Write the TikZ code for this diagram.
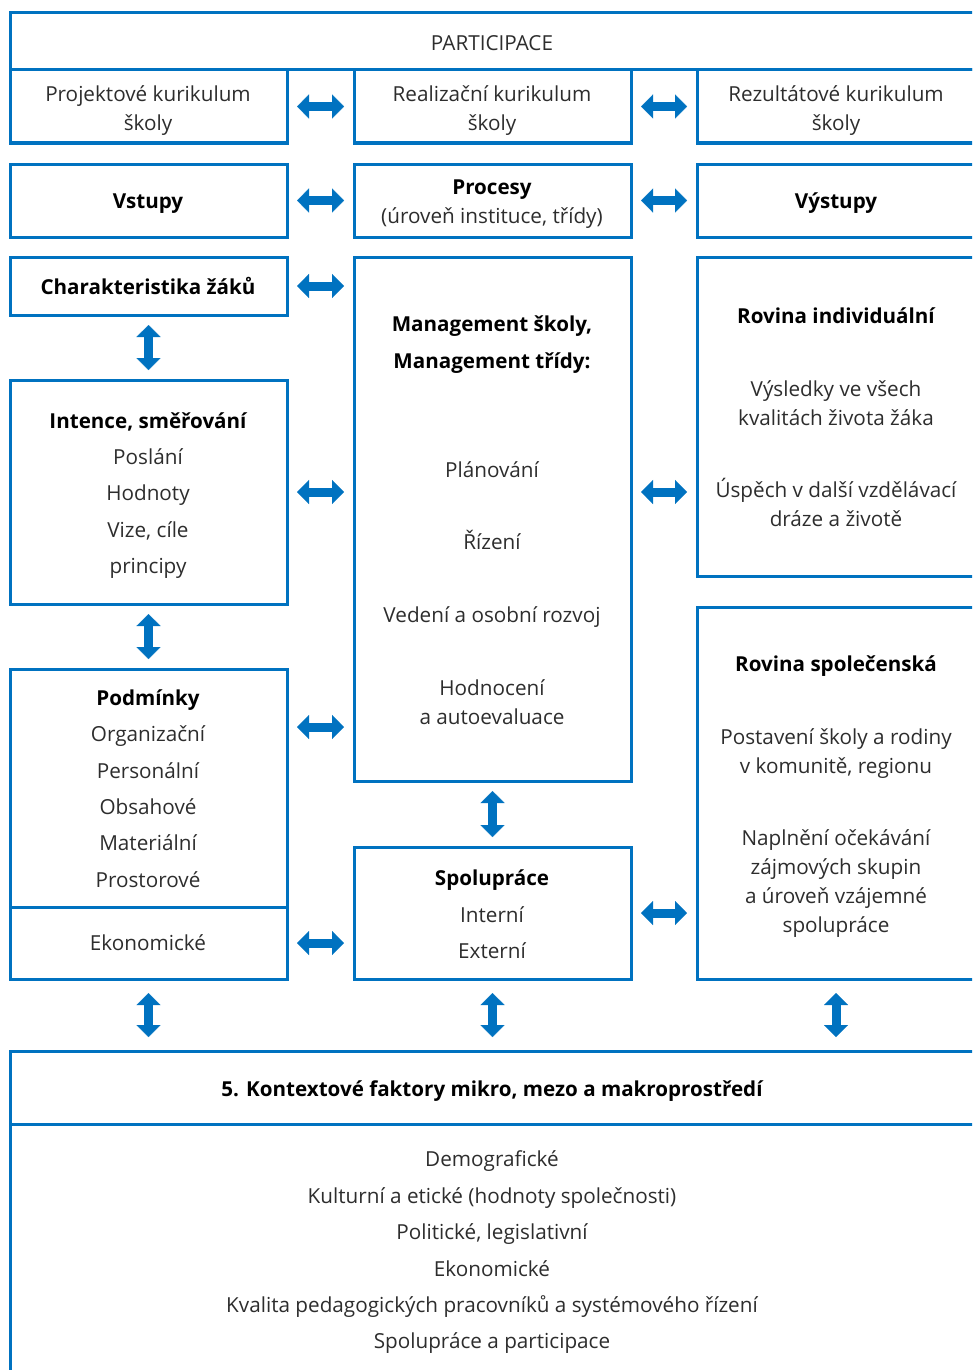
\documentclass[tikz,border=0pt]{standalone}
\usepackage{fontspec}
\setmainfont{Open Sans}
\usetikzlibrary{arrows.meta}
\definecolor{frameblue}{RGB}{0,114,192}
\definecolor{txtgray}{RGB}{45,45,45}
\tikzset{
  box/.style={draw=frameblue, line width=3pt, rectangle, inner sep=0pt, outer sep=0pt},
  txt/.style={anchor=base, inner sep=0pt, font=\fontsize{20.7}{24}\selectfont, text=txtgray},
  btxt/.style={anchor=base, inner sep=0pt, font=\fontsize{20.6}{24}\selectfont\bfseries, text=black},
  biarrow/.style={draw=frameblue, line width=9pt,
     {Triangle[length=12pt,width=24pt,line width=0.1pt]}-{Triangle[length=12pt,width=24pt,line width=0.1pt]},
     shorten <=10pt, shorten >=10pt},
  divider/.style={draw=frameblue, line width=3pt}
}
\newcommand{\tl}[4]{\node[txt] (#1) at (#2,#3+7.5) {#4};}
\newcommand{\bl}[4]{\node[btxt] (#1) at (#2,#3+7.5) {#4};}
\begin{document}
\begin{tikzpicture}[x=1pt,y=-1pt]
\useasboundingbox (0,0) rectangle (972,1370);
\clip (0,0) rectangle (972,1370);
% boxes
\node[box, minimum width=965pt, minimum height=57pt] (top) at (492.5,41.5) {};
\node[box, minimum width=277pt, minimum height=73pt] (proj) at (148.5,106.5) {};
\node[box, minimum width=277pt, minimum height=73pt] (real) at (492.5,106.5) {};
\node[box, minimum width=278pt, minimum height=73pt] (rez) at (836,106.5) {};
\node[box, minimum width=277pt, minimum height=73pt] (vst) at (148.5,200.5) {};
\node[box, minimum width=277pt, minimum height=73pt] (proc) at (492.5,200.5) {};
\node[box, minimum width=278pt, minimum height=73pt] (vyst) at (836,200.5) {};
\node[box, minimum width=277pt, minimum height=58pt] (char) at (148.5,286) {};
\node[box, minimum width=277pt, minimum height=224pt] (int) at (148.5,492) {};
\node[box, minimum width=277pt, minimum height=310pt] (podm) at (148.5,824) {};
\node[box, minimum width=277pt, minimum height=524pt] (mgmt) at (492.5,519) {};
\node[box, minimum width=277pt, minimum height=132pt] (spol) at (492.5,913) {};
\node[box, minimum width=278pt, minimum height=319pt] (ri) at (836,416.5) {};
\node[box, minimum width=278pt, minimum height=372pt] (rsp) at (836,793) {};
\node[box, minimum width=965pt, minimum height=334pt] (ctx) at (492.5,1218) {};
\draw[divider] (podm.west |- 0,907) -- (podm.east |- 0,907);
\draw[divider] (ctx.west |- 0,1124) -- (ctx.east |- 0,1124);
% texts
\tl{t0}{492}{43}{PARTICIPACE}
\tl{t1a}{148}{94}{Projektové kurikulum}
\tl{t1b}{148}{123}{školy}
\tl{t2a}{492}{94}{Realizační kurikulum}
\tl{t2b}{492}{123}{školy}
\tl{t3a}{836}{94}{Rezultátové kurikulum}
\tl{t3b}{836}{123}{školy}
\bl{t4}{148}{201}{Vstupy}
\bl{t5a}{492}{187}{Procesy}
\tl{t5b}{492}{216}{(úroveň instituce, třídy)}
\bl{t6}{836}{201}{Výstupy}
\bl{t7}{148}{287}{Charakteristika žáků}
\bl{t8a}{148}{421}{Intence, směřování}
\tl{t8b}{148}{457}{Poslání}
\tl{t8c}{148}{493}{Hodnoty}
\tl{t8d}{148}{530}{Vize, cíle}
\tl{t8e}{148}{566}{principy}
\bl{t9a}{148}{698}{Podmínky}
\tl{t9b}{148}{734}{Organizační}
\tl{t9c}{148}{771}{Personální}
\tl{t9d}{148}{807}{Obsahové}
\tl{t9e}{148}{843}{Materiální}
\tl{t9f}{148}{880}{Prostorové}
\tl{t9g}{148}{943}{Ekonomické}
\bl{t10a}{492}{324}{Management školy,}
\bl{t10b}{492}{361}{Management třídy:}
\tl{t10c}{492}{470}{Plánování}
\tl{t10d}{492}{542}{Řízení}
\tl{t10e}{492}{615}{Vedení a osobní rozvoj}
\tl{t10f}{492}{688}{Hodnocení}
\tl{t10g}{492}{717}{a autoevaluace}
\bl{t11a}{492}{878}{Spolupráce}
\tl{t11b}{492}{915}{Interní}
\tl{t11c}{492}{951}{Externí}
\bl{t12a}{836}{316}{Rovina individuální}
\tl{t12b}{836}{389}{Výsledky ve všech}
\tl{t12c}{836}{418}{kvalitách života žáka}
\tl{t12d}{836}{490}{Úspěch v další vzdělávací}
\tl{t12e}{836}{519}{dráze a životě}
\bl{t13a}{836}{664}{Rovina společenská}
\tl{t13b}{836}{737}{Postavení školy a rodiny}
\tl{t13c}{836}{766}{v komunitě, regionu}
\tl{t13d}{836}{838}{Naplnění očekávání}
\tl{t13e}{836}{867}{zájmových skupin}
\tl{t13f}{836}{896}{a úroveň vzájemné}
\tl{t13g}{836}{925}{spolupráce}
\bl{t14a}{492}{1089}{5. Kontextové faktory mikro, mezo a makroprostředí}
\tl{t14b}{492}{1159}{Demografické}
\tl{t14c}{492}{1196}{Kulturní a etické (hodnoty společnosti)}
\tl{t14d}{492}{1232}{Politické, legislativní}
\tl{t14e}{492}{1269}{Ekonomické}
\tl{t14f}{492}{1305}{Kvalita pedagogických pracovníků a systémového řízení}
\tl{t14g}{492}{1341}{Spolupráce a participace}
% horizontal arrows
\draw[biarrow] (proj) -- (real);
\draw[biarrow] (real) -- (rez);
\draw[biarrow] (vst) -- (proc);
\draw[biarrow] (proc) -- (vyst);
\draw[biarrow] (char.east) -- (char.east -| mgmt.west);
\draw[biarrow] (int.east) -- (int.east -| mgmt.west);
\draw[biarrow] (podm.east |- 0,727) -- (mgmt.west |- 0,727);
\draw[biarrow] (podm.east |- 0,943) -- (spol.west |- 0,943);
\draw[biarrow] (mgmt.east |- int.east) -- (ri.west |- int.east);
\draw[biarrow] (spol.east) -- (spol.east -| rsp.west);
% vertical arrows
\draw[biarrow] (char) -- (int);
\draw[biarrow] (int) -- (podm);
\draw[biarrow] (mgmt) -- (spol);
\draw[biarrow, shorten <=14pt, shorten >=14pt] (podm.south) -- (podm.south |- ctx.north);
\draw[biarrow, shorten <=14pt, shorten >=14pt] (spol.south) -- (spol.south |- ctx.north);
\draw[biarrow, shorten <=14pt, shorten >=14pt] (rsp.south) -- (rsp.south |- ctx.north);
\end{tikzpicture}
\end{document}
